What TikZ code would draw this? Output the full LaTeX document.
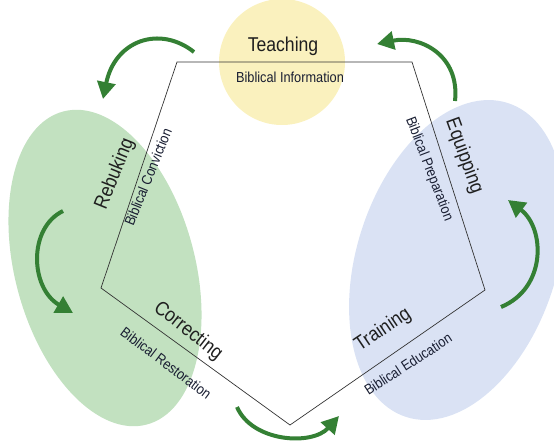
\documentclass[tikz,border=0pt]{standalone}
\usepackage{fontspec}
\setmainfont[FakeStretch=0.88]{Liberation Sans}
\usepackage{tikz}
\usetikzlibrary{arrows.meta}

\definecolor{leafgreen}{RGB}{194,225,192}
\definecolor{skyblue}{RGB}{218,226,244}
\definecolor{sunyellow}{RGB}{250,241,190}
\definecolor{arrowgreen}{RGB}{52,128,52}
\definecolor{inkblue}{RGB}{25,30,50}

\tikzset{
  stage/.style={font=\fontsize{20}{22}\selectfont,inner sep=0.75pt,text=black!88},
  sublabel/.style={font=\fontsize{14.5}{16}\selectfont,inner sep=0.5pt,text=inkblue},
  turn/.style={draw=arrowgreen,line width=4pt,-{Triangle[length=17pt,width=18pt]}}
}

\begin{document}
\begin{tikzpicture}[x=1pt,y=1pt,yscale=-1,xscale=1]
\useasboundingbox (0,0) rectangle (554,445);

%Shape: Ellipse (green)
\fill[leafgreen,rotate around={-15:(105,268)}] (105,268) ellipse (90pt and 162pt);
%Shape: Ellipse (blue)
\fill[skyblue,rotate around={18:(457,260)}] (457,260) ellipse (100pt and 165pt);
%Shape: Circle (yellow)
\fill[sunyellow] (282,62) circle (63pt);

%Pentagon corners
\coordinate (cTL) at (177,62);
\coordinate (cTR) at (412,62);
\coordinate (cR) at (485,290);
\coordinate (cB) at (290,425);
\coordinate (cL) at (101,288);
%Straight Lines
\draw[black!80,line width=0.7pt] (cTL) -- (cTR) -- (cR) -- (cB) -- (cL) -- cycle;

%Curved Arrows
\draw[turn] (194,52) .. controls (160,25) and (115,40) .. (103,99);
\draw[turn] (455,101) .. controls (460,55) and (420,35) .. (377,44);
\draw[turn] (63,211) .. controls (28,228) and (30,288) .. (73,313);
\draw[turn] (501,307) .. controls (547,288) and (545,228) .. (508,200);
\draw[turn] (237,407) .. controls (252,442) and (312,446) .. (339,416);

% Text Node
\node[stage] (teach) at (283,46) {Teaching};
% Text Node
\node[sublabel] (teachsub) at (290,77) {Biblical Information};
% Text Node
\node[stage,rotate=68] (rebuke) at (115,174) {Rebuking};
% Text Node
\node[sublabel,rotate=68] (rebukesub) at (148,177) {Biblical Conviction};
% Text Node
\node[stage,rotate=-70] (equip) at (464,156) {Equipping};
% Text Node
\node[sublabel,rotate=-69] (equipsub) at (429,169) {Biblical Preparation};
% Text Node
\node[stage,rotate=-38] (correct) at (188,331) {Correcting};
% Text Node
\node[sublabel,rotate=-37] (correctsub) at (166,363) {Biblical Restoration};
% Text Node
\node[stage,rotate=34] (train) at (383,330) {Training};
% Text Node
\node[sublabel,rotate=33] (trainsub) at (408,364) {Biblical Education};

\end{tikzpicture}
\end{document}
